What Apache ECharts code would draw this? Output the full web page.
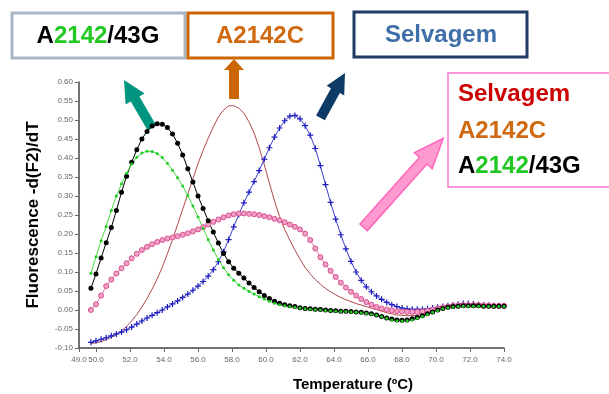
<!DOCTYPE html>
<html>
<head>
<meta charset="utf-8">
<script src="https://cdn.jsdelivr.net/npm/echarts@6/dist/echarts.min.js"></script>
<style>
html, body { margin: 0; padding: 0; background: #fff; }
#chart { width: 609px; height: 394px; }
</style>
</head>
<body>
<div id="chart"></div>
<script>
// melt curve temperatures (ºC)
var temps = [49.7,50.0,50.3,50.6,50.9,51.2,51.5,51.8,52.1,52.4,
	52.7,53.0,53.3,53.6,53.9,54.2,54.5,54.8,55.1,55.4,
	55.7,56.0,56.3,56.6,56.9,57.2,57.5,57.8,58.1,58.4,
	58.7,59.0,59.3,59.6,59.9,60.2,60.5,60.8,61.1,61.4,
	61.7,62.0,62.3,62.6,62.9,63.2,63.5,63.8,64.1,64.4,
	64.7,65.0,65.3,65.6,65.9,66.2,66.5,66.8,67.1,67.4,
	67.7,68.0,68.3,68.6,68.9,69.2,69.5,69.8,70.1,70.4,
	70.7,71.0,71.3,71.6,71.9,72.2,72.5,72.8,73.1,73.4,
	73.7,74.0]

// A2142/43G (black dots)
var mut43gBlack = [0.057,0.095,0.137,0.177,0.217,0.262,0.310,0.352,0.389,0.422,
	0.450,0.470,0.484,0.490,0.489,0.480,0.463,0.439,0.408,0.372,
	0.337,0.300,0.267,0.235,0.205,0.176,0.149,0.127,0.110,0.097,
	0.084,0.071,0.059,0.048,0.038,0.030,0.023,0.018,0.014,0.011,
	0.009,0.006,0.004,0.003,0.002,0.001,0.000,-0.001,-0.002,-0.003,
	-0.003,-0.004,-0.005,-0.006,-0.008,-0.010,-0.013,-0.017,-0.021,-0.024,
	-0.026,-0.027,-0.026,-0.023,-0.020,-0.015,-0.010,-0.005,0.000,0.004,
	0.007,0.009,0.010,0.011,0.011,0.011,0.011,0.010,0.010,0.010,
	0.010,0.010]

// A2142/43G (green)
var mut43gGreen = [0.097,0.140,0.182,0.220,0.262,0.300,0.332,0.360,0.384,0.402,
	0.413,0.418,0.417,0.412,0.401,0.386,0.368,0.348,0.326,0.301,
	0.274,0.245,0.215,0.185,0.158,0.133,0.111,0.093,0.078,0.066,
	0.057,0.049,0.042,0.035,0.029,0.023,0.018,0.014,0.011,0.009,
	0.007,0.005,0.003,0.002,0.001,0.000,-0.001,-0.002,-0.003,-0.004,
	-0.004,-0.005,-0.006,-0.007,-0.009,-0.011,-0.014,-0.018,-0.022,-0.026,
	-0.028,-0.029,-0.028,-0.026,-0.022,-0.017,-0.012,-0.006,-0.001,0.003,
	0.006,0.008,0.009,0.010,0.010,0.010,0.010,0.010,0.009,0.009,
	0.009,0.009]

// mixture (pink)
var mixPink = [0.000,0.015,0.038,0.063,0.080,0.096,0.110,0.123,0.136,0.148,
	0.158,0.166,0.173,0.179,0.184,0.188,0.191,0.194,0.198,0.202,
	0.207,0.212,0.218,0.225,0.232,0.238,0.244,0.249,0.252,0.254,
	0.254,0.253,0.252,0.250,0.247,0.244,0.240,0.236,0.231,0.225,
	0.219,0.212,0.201,0.184,0.162,0.139,0.120,0.103,0.087,0.072,
	0.059,0.048,0.038,0.029,0.021,0.014,0.008,0.004,0.001,-0.001,
	-0.003,-0.004,-0.005,-0.005,-0.005,-0.004,-0.002,0.001,0.004,0.007,
	0.009,0.011,0.012,0.013,0.013,0.013,0.013,0.012,0.012,0.011,
	0.011,0.011]

// A2142C (thin brown line)
var mut2142c = [-0.088,-0.086,-0.083,-0.078,-0.072,-0.065,-0.055,-0.043,-0.029,-0.012,
	0.008,0.030,0.055,0.082,0.113,0.148,0.185,0.225,0.265,0.305,
	0.345,0.385,0.420,0.452,0.482,0.508,0.526,0.537,0.538,0.531,
	0.518,0.495,0.466,0.427,0.382,0.334,0.287,0.246,0.212,0.184,
	0.158,0.134,0.112,0.095,0.080,0.068,0.057,0.048,0.040,0.033,
	0.027,0.022,0.017,0.013,0.009,0.005,0.001,-0.003,-0.007,-0.010,
	-0.013,-0.014,-0.015,-0.015,-0.014,-0.011,-0.007,-0.003,0.002,0.006,
	0.008,0.010,0.011,0.011,0.011,0.011,0.011,0.011,0.011,0.011,
	0.011,0.011]

// Selvagem (blue crosses)
var selvagem = [-0.085,-0.081,-0.077,-0.073,-0.068,-0.063,-0.058,-0.052,-0.045,-0.037,
	-0.029,-0.021,-0.014,-0.007,0.000,0.008,0.016,0.024,0.033,0.042,
	0.052,0.063,0.075,0.089,0.106,0.127,0.153,0.185,0.219,0.251,
	0.282,0.310,0.338,0.367,0.397,0.427,0.455,0.479,0.498,0.510,
	0.512,0.503,0.485,0.460,0.425,0.380,0.330,0.283,0.239,0.198,
	0.161,0.128,0.100,0.078,0.061,0.048,0.037,0.028,0.020,0.014,
	0.009,0.005,0.003,0.002,0.002,0.002,0.003,0.005,0.007,0.009,
	0.011,0.013,0.015,0.017,0.017,0.016,0.014,0.013,0.012,0.011,
	0.011,0.011]

var xTicks = [49,50,52,54,56,58,60,62,64,66,68,70,72,74]

function pairs(vals) {
	return temps.map(function(t, i) { return [t, vals[i]] })
}

var FONT = "'Liberation Sans', Arial, sans-serif"
var plusPath = 'path://M4,0H6V4H10V6H6V10H4V6H0V4H4Z'

var myChart = echarts.init(document.getElementById('chart'))
var option = {
	animation: false,
	backgroundColor: '#fff',
	grid: { left: 79, right: 105, top: 82, bottom: 46 },
	xAxis: {
		type: 'value',
		min: 49,
		max: 74,
		axisLine: { show: true, onZero: false, lineStyle: { color: '#444', width: 1.5 } },
		axisTick: { show: true, customValues: xTicks, length: 4, lineStyle: { color: '#666' } },
		axisLabel: {
			customValues: xTicks,
			formatter: function(v) { return v.toFixed(1) },
			fontSize: 8, color: '#666', margin: 8, fontFamily: FONT
		},
		splitLine: { show: false }
	},
	yAxis: {
		type: 'value',
		min: -0.1,
		max: 0.6,
		interval: 0.05,
		name: 'Fluorescence -d(F2)/dT',
		nameLocation: 'middle',
		nameGap: 37,
		nameTextStyle: { fontSize: 17, fontWeight: 'bold', color: '#000', fontFamily: FONT },
		axisLine: { show: true, lineStyle: { color: '#444', width: 1.5 } },
		axisTick: { show: true, length: 4, lineStyle: { color: '#666' } },
		axisLabel: {
			formatter: function(v) { return (Math.abs(v) < 1e-9 ? 0 : v).toFixed(2) },
			fontSize: 8, color: '#666', margin: 6, fontFamily: FONT
		},
		splitLine: { show: false }
	},
	series: [{
		name: 'A2142C',
		type: 'line',
		data: pairs(mut2142c),
		showSymbol: false,
		lineStyle: { color: '#B04848', width: 1 }
	}, {
		name: 'Selvagem',
		type: 'line',
		data: pairs(selvagem),
		symbol: plusPath,
		symbolSize: 6,
		itemStyle: { color: '#1C1CC0' },
		lineStyle: { color: '#4040D0', width: 1 }
	}, {
		name: 'Mistura',
		type: 'line',
		data: pairs(mixPink),
		symbol: 'circle',
		symbolSize: 5,
		itemStyle: { color: '#F2A0C8', borderColor: '#D8508E', borderWidth: 1 },
		lineStyle: { color: '#E070A8', width: 1 }
	}, {
		name: 'A2142/43G',
		type: 'line',
		data: pairs(mut43gBlack),
		symbol: 'circle',
		symbolSize: 5,
		itemStyle: { color: '#000' },
		lineStyle: { color: '#000', width: 1 }
	}, {
		name: 'A2142/43G b',
		type: 'line',
		data: pairs(mut43gGreen),
		symbol: 'circle',
		symbolSize: 3,
		itemStyle: { color: '#22CC22' },
		lineStyle: { color: '#44DD44', width: 1 }
	}],
	graphic: [
		// top boxes
		{ type: 'rect', shape: { x: 12, y: 13, width: 173, height: 45 }, style: { fill: '#fff', stroke: '#A8B6C6', lineWidth: 3 } },
		{ type: 'text', x: 98, y: 36, style: {
			text: '{k|A}{g|2142}{k|/43G}', align: 'center', verticalAlign: 'middle',
			rich: {
				k: { fill: '#000', font: 'bold 24px ' + FONT },
				g: { fill: '#22C822', font: 'bold 24px ' + FONT }
			}
		} },
		{ type: 'rect', shape: { x: 188, y: 13, width: 145, height: 45 }, style: { fill: '#fff', stroke: '#CC6600', lineWidth: 3 } },
		{ type: 'text', x: 260, y: 36, style: { text: 'A2142C', align: 'center', verticalAlign: 'middle', fill: '#D06A10', font: 'bold 24px ' + FONT } },
		{ type: 'rect', shape: { x: 354, y: 12, width: 173, height: 45 }, style: { fill: '#fff', stroke: '#1F3B66', lineWidth: 3 } },
		{ type: 'text', x: 441, y: 35, style: { text: 'Selvagem', align: 'center', verticalAlign: 'middle', fill: '#3E6FA8', font: 'bold 24px ' + FONT } },

		// arrows
		{ type: 'polygon', shape: { points: [[124,80],[144.6,93.5],[139.4,96.5],[156.3,125.5],[147.7,130.5],[130.8,101.5],[125.6,104.6]] }, style: { fill: '#00957F' } },
		{ type: 'polygon', shape: { points: [[234,59],[244,70],[239,70],[239,99],[229,99],[229,70],[224,70]] }, style: { fill: '#CC6600' } },
		{ type: 'polygon', shape: { points: [[345,73],[344.2,95.4],[339.8,93.0],[324.9,120.2],[316.1,115.4],[331.0,88.2],[326.6,85.8]] }, style: { fill: '#0E3A66' } },
		{ type: 'polygon', shape: { points: [[443.3,138.3],[432.2,168.7],[427.0,164.0],[367.4,230.6],[360.0,224.0],[419.6,157.3],[414.4,152.6]] }, style: { fill: '#FF9AD0', stroke: '#FF66BB', lineWidth: 1.5 } },

		// legend box on the right
		{ type: 'rect', shape: { x: 448, y: 73, width: 175, height: 114 }, style: { fill: '#fff', stroke: '#FF77CC', lineWidth: 1.5 } },
		{ type: 'text', x: 458, y: 94, style: { text: 'Selvagem', align: 'left', verticalAlign: 'middle', fill: '#CC0000', font: 'bold 24px ' + FONT } },
		{ type: 'text', x: 458, y: 131, style: { text: 'A2142C', align: 'left', verticalAlign: 'middle', fill: '#D06A10', font: 'bold 24px ' + FONT } },
		{ type: 'text', x: 458, y: 166, style: {
			text: '{k|A}{g|2142}{k|/43G}', align: 'left', verticalAlign: 'middle',
			rich: {
				k: { fill: '#000', font: 'bold 24px ' + FONT },
				g: { fill: '#22C822', font: 'bold 24px ' + FONT }
			}
		} },

		// x axis title
		{ type: 'text', x: 353, y: 385, style: { text: 'Temperature (ºC)', align: 'center', verticalAlign: 'middle', fill: '#000', font: 'bold 15px ' + FONT } }
	]
}

myChart.setOption(option)
</script>
</body>
</html>
